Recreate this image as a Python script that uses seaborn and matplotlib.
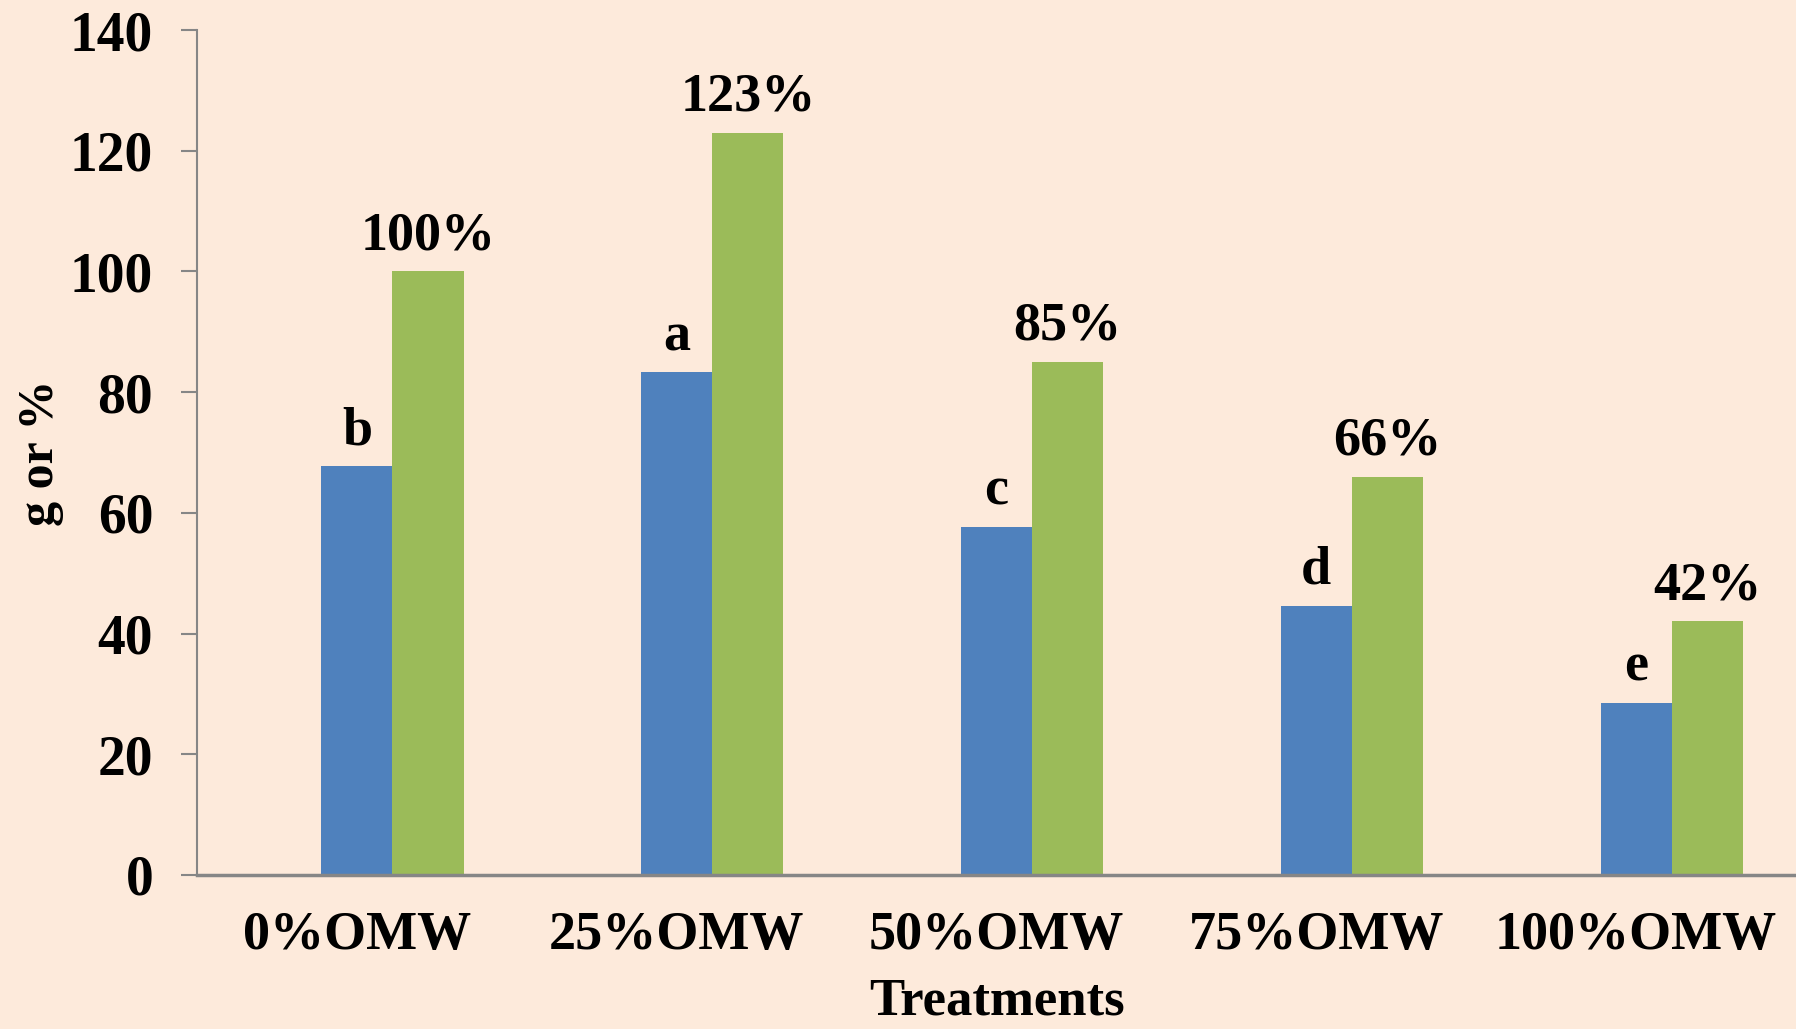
import matplotlib
matplotlib.use("Agg")
import matplotlib.pyplot as plt
import seaborn as sns
import pandas as pd

categories = ["0%OMW", "25%OMW", "50%OMW", "75%OMW", "100%OMW"]
weight_g = [67.7, 83.3, 57.7, 44.6, 28.5]
percent = [100, 123, 85, 66, 42]
blank = [0, 0, 0, 0, 0]
letters = ["b", "a", "c", "d", "e"]
pct_labels = ["100%", "123%", "85%", "66%", "42%"]
series_names = ["blank", "g", "%"]
yticks = [0, 20, 40, 60, 80, 100, 120, 140]

bg = "#FDEADB"
sns.set_theme(style="white")
plt.rcParams["font.family"] = ["Liberation Serif", "DejaVu Serif"]
plt.rcParams["font.weight"] = "bold"
plt.rcParams["text.color"] = "black"
plt.rcParams["xtick.color"] = "black"
plt.rcParams["ytick.color"] = "black"
plt.rcParams["axes.labelcolor"] = "black"

df = pd.DataFrame({
    "Treatment": categories * 3,
    "value": blank + weight_g + percent,
    "series": [series_names[0]] * 5 + [series_names[1]] * 5 + [series_names[2]] * 5,
})

fig = plt.figure(figsize=(17.96, 10.29), dpi=100)
fig.patch.set_facecolor(bg)
ax = fig.add_axes([0.1097, 0.1497, 0.8903, 0.8211])
ax.set_facecolor(bg)

sns.barplot(data=df, x="Treatment", y="value", hue="series",
            hue_order=series_names,
            palette=[bg, "#4F81BD", "#9BBB59"], width=0.667, dodge=True,
            saturation=1, ax=ax, legend=False, errorbar=None, linewidth=0)

ax.set_ylim(0, 140)
ax.set_xlim(-0.5, 4.5)
ax.set_yticks(yticks)
ax.set_yticklabels([str(t) for t in yticks], fontsize=40, fontweight="bold")
ax.tick_params(axis="y", length=16 * 0.72, width=1.5, color="#868686",
               direction="out", pad=20, left=True)
ax.tick_params(axis="x", length=0, pad=26)
for lab in ax.get_xticklabels():
    lab.set_fontsize(39)
    lab.set_fontweight("bold")

for s in ["top", "right"]:
    ax.spines[s].set_visible(False)
for s in ["left", "bottom"]:
    ax.spines[s].set_color("#868686")
    ax.spines[s].set_linewidth(1.5)
ax.spines["bottom"].set_linewidth(2.5)

ax.set_xlabel("Treatments", fontsize=38, fontweight="bold", labelpad=12)
ax.set_ylabel("g or %", fontsize=36, fontweight="bold", labelpad=4)

# annotations
containers = ax.containers
for bar, txt in zip(containers[1], letters):
    ax.annotate(txt, (bar.get_x() + bar.get_width() / 2, bar.get_height()),
                xytext=(0, 16), textcoords="offset points",
                ha="center", va="baseline", fontsize=39, fontweight="bold")
for bar, txt in zip(containers[2], pct_labels):
    ax.annotate(txt, (bar.get_x() + bar.get_width() / 2, bar.get_height()),
                xytext=(0, 16), textcoords="offset points",
                ha="center", va="baseline", fontsize=39, fontweight="bold")

fig.savefig("out.png", dpi=100, facecolor=bg)
